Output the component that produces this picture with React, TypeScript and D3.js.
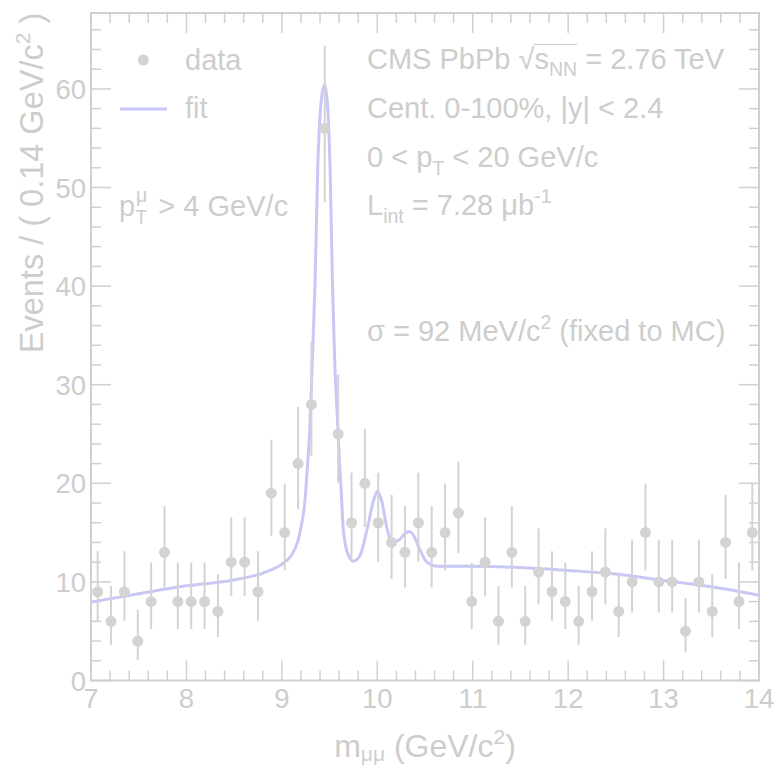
import React, { useLayoutEffect, useRef, useState } from "react";
import * as d3 from "d3";

// ---- data ----
const massBins = [
  7.07, 7.21, 7.35, 7.49, 7.63, 7.77, 7.91, 8.05, 8.19, 8.33,
  8.47, 8.61, 8.75, 8.89, 9.03, 9.17, 9.31, 9.45, 9.59, 9.73,
  9.87, 10.01, 10.15, 10.29, 10.43, 10.57, 10.71, 10.85, 10.99, 11.13,
  11.27, 11.41, 11.55, 11.69, 11.83, 11.97, 12.11, 12.25, 12.39, 12.53,
  12.67, 12.81, 12.95, 13.09, 13.23, 13.37, 13.51, 13.65, 13.79, 13.93,
];
const counts = [
  9, 6, 9, 4, 8, 13, 8, 8, 8, 7,
  12, 12, 9, 19, 15, 22, 28, 56, 25, 16,
  20, 16, 14, 13, 16, 13, 15, 17, 8, 12,
  6, 13, 6, 11, 9, 8, 6, 9, 11, 7,
  10, 15, 10, 10, 5, 10, 7, 14, 8, 15,
];
const errLow = [
  2.94, 2.38, 2.94, 1.91, 2.77, 3.56, 2.77, 2.77, 2.77, 2.58,
  3.42, 3.42, 2.94, 4.32, 3.83, 4.64, 5.21, 7.5, 4.94, 3.96,
  4.43, 3.96, 3.7, 3.56, 3.96, 3.56, 3.83, 4.08, 2.77, 3.42,
  2.38, 3.56, 2.38, 3.27, 2.94, 2.77, 2.38, 2.94, 3.27, 2.58,
  3.11, 3.83, 3.11, 3.11, 2.16, 3.11, 2.58, 3.7, 2.77, 3.83,
];
const errHigh = [
  4.11, 3.58, 4.11, 3.16, 3.95, 4.7, 3.95, 3.95, 3.95, 3.77,
  4.56, 4.56, 4.11, 5.43, 4.96, 5.75, 6.32, 8.4, 6.04, 5.08,
  5.54, 5.08, 4.83, 4.7, 5.08, 4.7, 4.96, 5.2, 3.95, 4.56,
  3.58, 4.7, 3.58, 4.42, 4.11, 3.95, 3.58, 4.11, 4.42, 3.77,
  4.27, 4.96, 4.27, 4.27, 3.38, 4.27, 3.77, 4.83, 3.95, 4.96,
];
const fitMass = [
  7.0, 7.5, 8.0, 8.5, 8.8, 9.0, 9.1, 9.17, 9.2, 9.24, 9.27, 9.29, 9.305,
  9.325, 9.348, 9.376, 9.411, 9.446, 9.477, 9.505, 9.53, 9.555, 9.575,
  9.603, 9.62, 9.645, 9.697, 9.75, 9.82, 9.89, 9.96, 10.0, 10.047, 10.1,
  10.152, 10.22, 10.29, 10.337, 10.38, 10.45, 10.52, 10.62, 11.0, 11.5,
  12.0, 12.5, 13.0, 13.5, 14.0,
];
const fitEvents = [
  7.95, 8.8, 9.6, 10.2, 10.9, 11.8, 12.7, 14.2, 15.5, 18.0, 22.0, 25.0, 28.5,
  34.0, 40.4, 52.0, 58.6, 60.4, 58.6, 52.0, 40.4, 32.0, 28.0,
  22.3, 19.6, 15.2, 12.7, 12.1, 12.7, 15.2, 18.2, 19.2, 18.2, 15.5,
  14.1, 14.2, 14.9, 15.1, 14.7, 13.2, 12.0, 11.6, 11.6, 11.45,
  11.15, 10.8, 10.15, 9.5, 8.65,
];
const xTicks = [7, 8, 9, 10, 11, 12, 13, 14];
const yTicks = [0, 10, 20, 30, 40, 50, 60];

// ---- style ----
const W = 774;
const H = 767;
const FONT = "'Liberation Sans', Arial, Helvetica, sans-serif";
const GREY = "#d0d0d0";
const TEXT = "#cdcdcd";
const FIT = "#c8c8f7";
const DOT = "#d3d3d3";
const FS = 29;
const FSS = 19.5;

export default function App() {
  const x = d3.scaleLinear().domain([7, 14]).range([91, 759]);
  const y = d3.scaleLinear().domain([0, 67.7]).range([680.5, 13]);
  const [x0, x1] = x.range();
  const [y0, y1] = y.range();

  const fitLine = d3
    .line<number>()
    .x((_, i) => x(fitMass[i]))
    .y((d) => y(d))
    .curve(d3.curveMonotoneX);

  const xMinor = d3.range(7, 14.001, 0.2).map((v) => +v.toFixed(2));
  const yMinor = d3.range(0, 67.7, 2);

  const cmsRef = useRef<SVGTextElement>(null);
  const [over, setOver] = useState<{ x1: number; x2: number; y: number } | null>(null);
  useLayoutEffect(() => {
    const t = cmsRef.current;
    if (!t) return;
    const s = t.textContent || "";
    const iRoot = s.indexOf("\u221A");
    const iEnd = iRoot + 3;
    try {
      const a = t.getExtentOfChar(iRoot);
      const b = t.getExtentOfChar(iEnd);
      setOver({ x1: a.x + a.width - 1, x2: b.x + b.width, y: a.y + 2 });
    } catch (e) {
      /* ignore */
    }
  }, []);

  return (
    <svg
      width={W}
      height={H}
      style={{ position: "absolute", left: 0, top: 0, background: "#fff" }}
      fontFamily={FONT}
    >
      {/* frame */}
      <rect x={x0} y={y1} width={x1 - x0} height={y0 - y1} fill="none" stroke={GREY} strokeWidth={2} />

      {/* x ticks bottom & top */}
      {xMinor.map((v) => {
        const major = Math.abs(v - Math.round(v)) < 1e-6;
        const len = major ? 20 : 10;
        return (
          <g key={"xt" + v} stroke={GREY} strokeWidth={1.5}>
            <line x1={x(v)} x2={x(v)} y1={y0} y2={y0 - len} />
            <line x1={x(v)} x2={x(v)} y1={y1} y2={y1 + len} />
          </g>
        );
      })}
      {/* y ticks left & right */}
      {yMinor.map((v) => {
        const major = v % 10 === 0;
        const len = major ? 20 : 10;
        return (
          <g key={"yt" + v} stroke={GREY} strokeWidth={1.5}>
            <line x1={x0} x2={x0 + len} y1={y(v)} y2={y(v)} />
            <line x1={x1} x2={x1 - len} y1={y(v)} y2={y(v)} />
          </g>
        );
      })}

      {/* tick labels */}
      {xTicks.map((v) => (
        <text key={"xl" + v} x={x(v)} y={708} textAnchor="middle" fontSize={27.5} fill={TEXT}>
          {v}
        </text>
      ))}
      {yTicks.map((v) => (
        <text key={"yl" + v} x={86} y={y(v) + 10} textAnchor="end" fontSize={27.5} fill={TEXT}>
          {v}
        </text>
      ))}

      {/* axis titles */}
      <text x={425} y={757} textAnchor="middle" fontSize={32} fill={TEXT}>
        <tspan>m</tspan>
        <tspan fontSize={21} dy={4}>μμ</tspan>
        <tspan dy={-4}> (GeV/c</tspan>
        <tspan fontSize={21} dy={-13}>2</tspan>
        <tspan dy={13}>)</tspan>
      </text>
      <text
        transform="translate(43,183) rotate(-90)"
        textAnchor="middle"
        fontSize={32.5}
        fill={TEXT}
      >
        <tspan>Events / ( 0.14 GeV/c</tspan>
        <tspan fontSize={21} dy={-13}>2</tspan>
        <tspan dy={13}> )</tspan>
      </text>

      {/* fit curve */}
      <path d={fitLine(fitEvents) || ""} fill="none" stroke={FIT} strokeWidth={3} />

      {/* data */}
      {counts.map((c, i) => (
        <g key={"d" + i}>
          <line
            x1={x(massBins[i])}
            x2={x(massBins[i])}
            y1={y(c - errLow[i])}
            y2={y(c + errHigh[i])}
            stroke={DOT}
            strokeWidth={2}
          />
          <circle cx={x(massBins[i])} cy={y(c)} r={5.5} fill={DOT} />
        </g>
      ))}

      {/* legend */}
      <circle cx={143.3} cy={60} r={5.5} fill={DOT} />
      <text x={185} y={70} fontSize={FS} fill={TEXT}>data</text>
      <line x1={120} x2={167} y1={109} y2={109} stroke={FIT} strokeWidth={3} />
      <text x={185} y={118} fontSize={FS} fill={TEXT}>fit</text>

      <text x={119} y={216} fontSize={FS} fill={TEXT}>
        <tspan>p</tspan>
        <tspan fontSize={FSS} dy={8}>T</tspan>
        <tspan fontSize={FSS} dx={-11} dy={-22}>μ</tspan>
        <tspan dx={3} dy={14}> &gt; 4 GeV/c</tspan>
      </text>

      {/* annotations */}
      <text ref={cmsRef} x={367} y={68.5} fontSize={FS} fill={TEXT}>
        <tspan>CMS PbPb </tspan>
        <tspan>{"\u221A"}</tspan>
        <tspan>s</tspan>
        <tspan fontSize={FSS} dy={7}>NN</tspan>
        <tspan dy={-7}> = 2.76 TeV</tspan>
      </text>
      {over && (
        <line x1={over.x1} x2={over.x2} y1={over.y} y2={over.y} stroke={TEXT} strokeWidth={1.2} />
      )}
      <text x={367} y={118} fontSize={FS} fill={TEXT}>
        Cent. 0-100%, |y| &lt; 2.4
      </text>
      <text x={367} y={167} fontSize={FS} fill={TEXT}>
        <tspan>0 &lt; p</tspan>
        <tspan fontSize={FSS} dy={8}>T</tspan>
        <tspan dy={-8}> &lt; 20 GeV/c</tspan>
      </text>
      <text x={367} y={215} fontSize={FS} fill={TEXT}>
        <tspan>L</tspan>
        <tspan fontSize={FSS} dy={8}>int</tspan>
        <tspan dy={-8}> = 7.28 μb</tspan>
        <tspan fontSize={FSS} dy={-12}>-1</tspan>
      </text>
      <text x={367} y={341} fontSize={FS} fill={TEXT}>
        <tspan>σ = 92 MeV/c</tspan>
        <tspan fontSize={FSS} dy={-12}>2</tspan>
        <tspan dy={12}> (fixed to MC)</tspan>
      </text>
    </svg>
  );
}
